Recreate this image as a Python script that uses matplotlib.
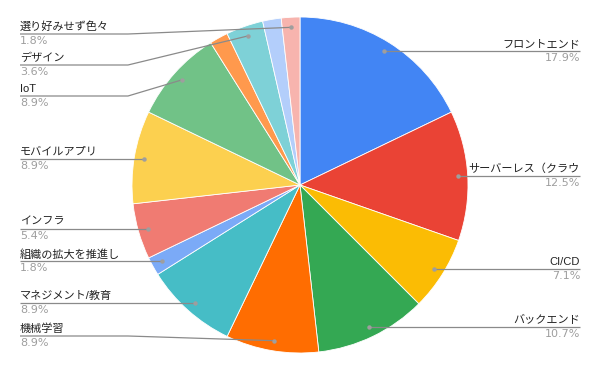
import numpy as np
import matplotlib.pyplot as plt

plt.rcParams['font.family'] = ['Liberation Sans', 'Noto Sans CJK JP', 'DejaVu Sans']

# slices, clockwise from 12 o'clock (None = label hidden)
names = ['フロントエンド', 'サーバーレス（クラウ', 'CI/CD', 'バックエンド', '機械学習',
         'マネジメント/教育', '組織の拡大を推進し', 'インフラ', 'モバイルアプリ', 'IoT',
         None, 'デザイン', None, '選り好みせず色々']
counts = [10, 7, 4, 6, 5, 5, 1, 3, 5, 5, 1, 2, 1, 1]
colors = ['#4285F4', '#EA4335', '#FBBC04', '#34A853', '#FF6D01', '#46BDC6', '#7BAAF7',
          '#F07B72', '#FCD04F', '#71C287', '#FF994D', '#7ED1D7', '#B3CEFB', '#F7B4AE']

W, H = 600, 371
cx, cy, R = 300, 186, 168

fig = plt.figure(figsize=(6, 3.71), dpi=100)
ax = fig.add_axes([0, 0, 1, 1])
ax.pie(counts, colors=colors, startangle=90, counterclock=False, center=(cx, cy), radius=R,
       wedgeprops=dict(edgecolor='white', linewidth=0.6))
ax.set_xlim(0, W)
ax.set_ylim(0, H)
ax.set_aspect('auto')
ax.axis('off')

total = sum(counts)
cum = np.cumsum([0] + counts)
items = []
for i, n in enumerate(names):
    if n is None:
        continue
    mid = (cum[i] + counts[i] / 2) / total * 360
    a = np.radians(90 - mid)
    dx = cx + 0.94 * R * np.cos(a)
    dy = H - (cy + 0.94 * R * np.sin(a))  # pixel coords, y down
    items.append(dict(name=n, pct=f'{counts[i] / total * 100:.1f}%', dx=dx, dy=dy,
                      left=dx < cx))

grey = '#8a8a8a'
for side in (True, False):
    group = sorted([it for it in items if it['left'] == side], key=lambda d: d['dy'])
    prev = -1e9
    for it in group:
        y = min(max(it['dy'], 34), 336)
        y = max(y, prev + 31)
        it['ly'] = y
        prev = y
    for it in group:
        ly = H - it['ly']
        dpx, dpy = it['dx'], H - it['dy']
        if side:
            x0, elbow = 20, 128
            if abs(it['ly'] - it['dy']) < 2:
                xs, ys = [x0, dpx], [ly, ly]
            else:
                xs, ys = [x0, elbow, dpx], [ly, ly, dpy]
            ha = 'left'
        else:
            x0 = 580
            xs, ys = [dpx, x0], [ly, ly]
            ha = 'right'
        ax.plot(xs, ys, color=grey, lw=0.9, solid_capstyle='butt')
        ax.plot([dpx], [dpy], 'o', color='#9e9e9e', ms=3.2, mec='none')
        ax.text(x0, ly + 2, it['name'], ha=ha, va='bottom', fontsize=8, color='#222222')
        ax.text(x0, ly - 2, it['pct'], ha=ha, va='top', fontsize=8, color='#9e9e9e',
                family='DejaVu Sans')

fig.savefig('out.png', dpi=100)
